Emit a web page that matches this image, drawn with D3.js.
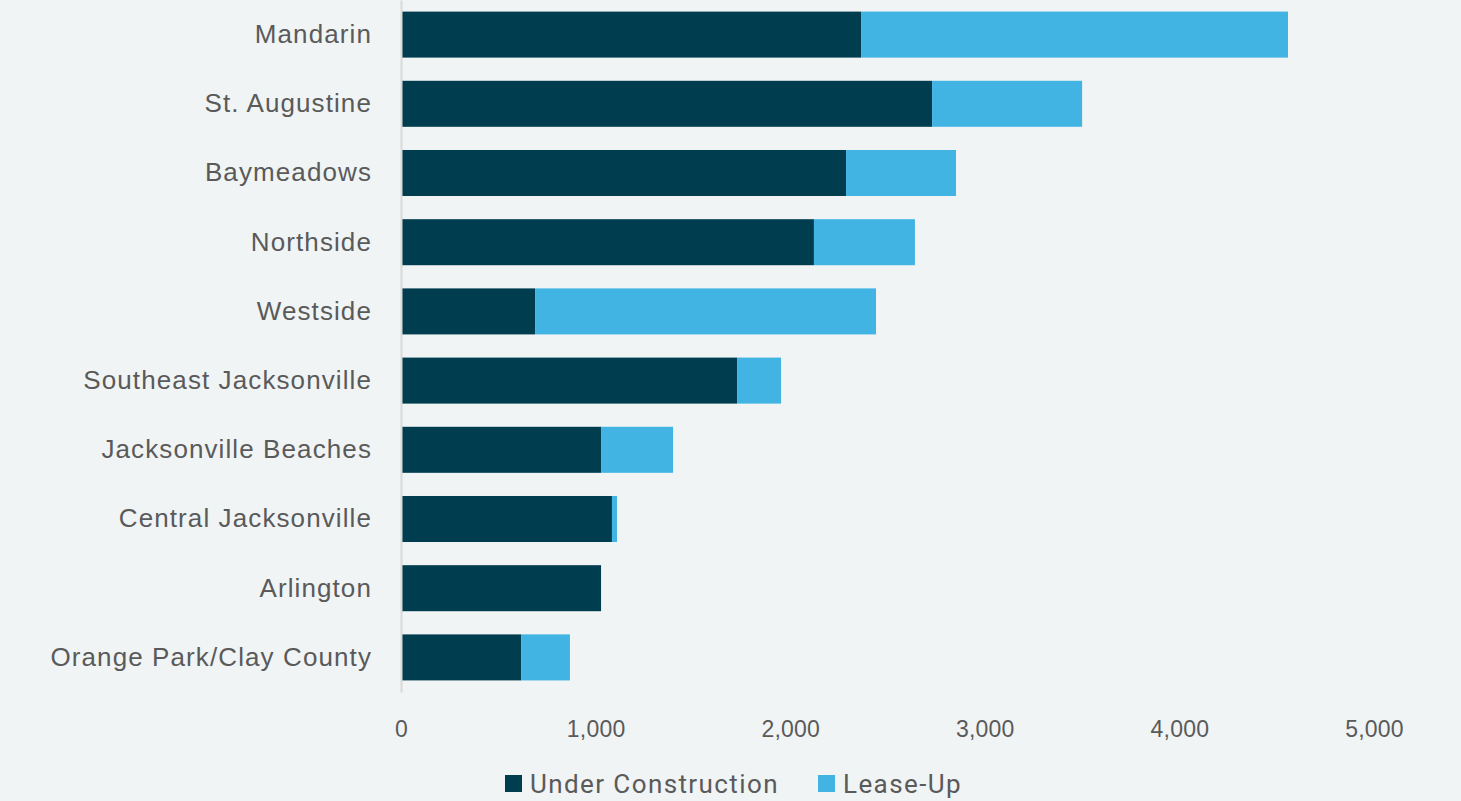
<!DOCTYPE html>
<html>
<head>
<meta charset="utf-8">
<script src="https://cdn.jsdelivr.net/npm/d3@7"></script>
<style>
  body { margin: 0; background: #f0f4f5; }
  svg { display: block; font-family: Roboto, "DejaVu Sans", sans-serif; }
  .y-axis text { fill: #5a5a5a; font-size: 26px; letter-spacing: 1.1px; }
  .x-axis text { fill: #5a5a5a; font-size: 23px; letter-spacing: 0.2px; }
</style>
</head>
<body>
<div id="chart"></div>
<script>
var categories = ['Mandarin', 'St. Augustine', 'Baymeadows', 'Northside', 'Westside',
  'Southeast Jacksonville', 'Jacksonville Beaches', 'Central Jacksonville', 'Arlington',
  'Orange Park/Clay County'];
var under_construction = [2364, 2729, 2287, 2122, 689, 1727, 1028, 1084, 1028, 617];
var lease_up = [2194, 771, 565, 519, 1752, 226, 370, 26, 0, 251];
var series_names = ['Under Construction', 'Lease-Up'];
var x_ticks = [0, 1000, 2000, 3000, 4000, 5000];

var colors = ['#003d4f', '#41b4e4'];
var chart_width = 1461;
var chart_height = 801;

var svg = d3.select('#chart')
  .append('svg')
  .attr('width', chart_width)
  .attr('height', chart_height);

var rows = categories.map(function(c, i) {
  return { cat: c, uc: under_construction[i], lu: lease_up[i] };
});
var stacked = d3.stack().keys(['uc', 'lu'])(rows);

var x_scale = d3.scaleLinear()
  .domain([0, 5000])
  .range([401, 1374]);

var y_scale = d3.scaleBand()
  .domain(categories)
  .range([0, 692])
  .paddingInner(0.335)
  .paddingOuter(0.1675);

// bars
svg.selectAll('g.series')
  .data(stacked)
  .enter()
  .append('g')
  .attr('class', 'series')
  .attr('fill', function(d, i) { return colors[i]; })
  .selectAll('rect')
  .data(function(d) { return d; })
  .enter()
  .append('rect')
  .attr('x', function(d) { return x_scale(d[0]); })
  .attr('y', function(d) { return y_scale(d.data.cat); })
  .attr('width', function(d) { return Math.max(0, x_scale(d[1]) - x_scale(d[0])); })
  .attr('height', y_scale.bandwidth());

// y axis
var y_axis = d3.axisLeft(y_scale).tickSize(0).tickPadding(29);
svg.append('g')
  .attr('class', 'y-axis')
  .attr('transform', 'translate(401,0)')
  .call(y_axis)
  .call(function(g) {
    g.select('.domain').attr('stroke', '#d9d9d9').attr('stroke-width', 2);
  });

// x axis (labels only)
var x_axis = d3.axisBottom(x_scale)
  .tickValues(x_ticks)
  .tickSize(0)
  .tickPadding(0)
  .tickFormat(d3.format(','));
svg.append('g')
  .attr('class', 'x-axis')
  .attr('transform', 'translate(0,721)')
  .call(x_axis)
  .call(function(g) { g.select('.domain').remove(); });

// legend
var legend_x = [505, 818];
var legend = svg.append('g')
  .selectAll('g')
  .data(series_names)
  .enter()
  .append('g')
  .attr('transform', function(d, i) { return 'translate(' + legend_x[i] + ',775)'; });
legend.append('rect')
  .attr('width', 17)
  .attr('height', 17)
  .attr('fill', function(d, i) { return colors[i]; });
legend.append('text')
  .attr('x', 25)
  .attr('y', 18)
  .attr('fill', '#5a5a5a')
  .style('font-size', '26px')
  .style('letter-spacing', '1.4px')
  .text(function(d) { return d; });
</script>
</body>
</html>
